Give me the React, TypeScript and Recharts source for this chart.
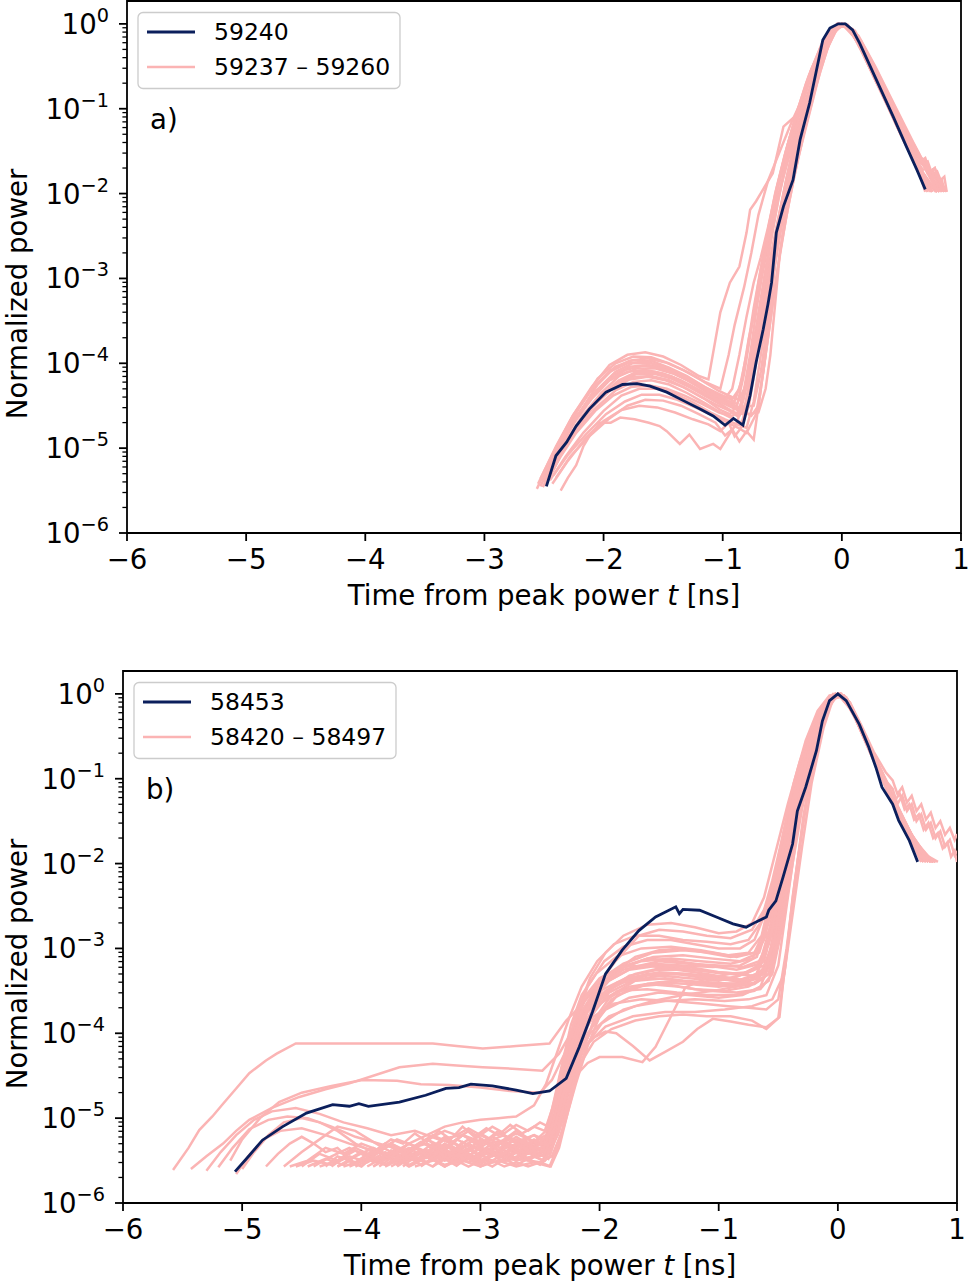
import { LineChart, Line, XAxis, YAxis, ReferenceArea } from "recharts";

// Normalized power traces, stored as [time in ns, log10(power)] pairs.
type Pt = [number, number];

const NAVY = "#0b1f5c";
const PINK = "#fbb4b4";
const FONT = "'DejaVu Sans', sans-serif";

const W = 969;
const PLOT_H = 532;
const Y_TOP = 1.86;

const X_TICKS = [-6, -5, -4, -3, -2, -1, 0, 1];
const DECADES = [-6, -5, -4, -3, -2, -1, 0];
const MANTISSAS = [1, 2, 3, 4, 5, 6, 7, 8, 9];

// ---- panel a) ----
const shotA = "59240";
const rangeA = "59237 – 59260";

const shot59240: Pt[] = [
  [-2.48, -5.45], [-2.4, -5.09], [-2.31, -4.93], [-2.23, -4.74], [-2.12, -4.54], [-1.98, -4.34],
  [-1.84, -4.25], [-1.72, -4.24], [-1.61, -4.27], [-1.47, -4.34], [-1.33, -4.44], [-1.19, -4.54],
  [-1.08, -4.62], [-0.98, -4.73], [-0.91, -4.65], [-0.83, -4.73], [-0.77, -4.38], [-0.72, -3.99],
  [-0.66, -3.6], [-0.62, -3.3], [-0.59, -3.05], [-0.55, -2.46], [-0.49, -2.15], [-0.41, -1.84],
  [-0.35, -1.36], [-0.27, -0.93], [-0.16, -0.19], [-0.1, -0.05], [-0.03, 0], [0.03, 0],
  [0.09, -0.07], [0.15, -0.23], [0.29, -0.66], [0.43, -1.09], [0.54, -1.44], [0.63, -1.72],
  [0.7, -1.95],
];

const shots59237to59260: Pt[][] = [
  [[-2.52, -5.38], [-2.4, -5.0], [-2.25, -4.6], [-2.1, -4.28], [-1.95, -4.02], [-1.8, -3.9], [-1.65, -3.87], [-1.5, -3.92], [-1.35, -4.02], [-1.2, -4.15], [-1.12, -4.19], [-1.02, -3.4], [-0.94, -3.05], [-0.86, -2.86], [-0.8, -2.46], [-0.77, -2.19], [-0.72, -2.09], [-0.58, -1.76], [-0.49, -1.21], [-0.41, -1.11], [-0.34, -1.07], [-0.3, -0.89], [-0.2, -0.48], [-0.1, -0.1], [0, 0], [0.1, -0.12], [0.2, -0.42], [0.35, -0.85], [0.5, -1.3], [0.62, -1.62], [0.74, -1.88], [0.8, -1.98]],
  [[-2.49, -5.32], [-2.38, -4.98], [-2.22, -4.56], [-2.05, -4.18], [-1.9, -4.0], [-1.75, -3.92], [-1.6, -3.93], [-1.45, -4.0], [-1.3, -4.1], [-1.15, -4.22], [-1.02, -4.3], [-0.95, -3.9], [-0.9, -3.55], [-0.82, -3.1], [-0.76, -2.7], [-0.7, -2.25], [-0.62, -1.85], [-0.52, -1.5], [-0.42, -1.15], [-0.32, -0.85], [-0.2, -0.42], [-0.1, -0.1], [0, 0], [0.12, -0.18], [0.25, -0.55], [0.4, -1.0], [0.55, -1.42], [0.68, -1.78], [0.76, -1.98]],
  [[-2.47, -5.3], [-2.35, -4.95], [-2.2, -4.58], [-2.05, -4.25], [-1.9, -4.04], [-1.75, -3.96], [-1.6, -3.97], [-1.45, -4.05], [-1.3, -4.15], [-1.15, -4.28], [-1.0, -4.38], [-0.9, -4.45], [-0.84, -4.2], [-0.78, -3.7], [-0.7, -3.2], [-0.62, -2.6], [-0.55, -2.1], [-0.47, -1.7], [-0.38, -1.25], [-0.3, -0.9], [-0.18, -0.38], [-0.08, -0.07], [0.02, 0], [0.14, -0.14], [0.28, -0.5], [0.44, -0.95], [0.6, -1.4], [0.72, -1.72], [0.8, -1.85], [0.84, -1.98]],
  [[-2.55, -5.42], [-2.42, -5.05], [-2.28, -4.68], [-2.12, -4.35], [-1.95, -4.1], [-1.8, -4.0], [-1.65, -3.98], [-1.5, -4.04], [-1.35, -4.13], [-1.2, -4.25], [-1.05, -4.36], [-0.92, -4.48], [-0.86, -4.55], [-0.8, -4.2], [-0.74, -3.75], [-0.66, -3.2], [-0.58, -2.65], [-0.5, -2.1], [-0.42, -1.62], [-0.33, -1.1], [-0.22, -0.6], [-0.12, -0.2], [0, 0], [0.1, -0.1], [0.22, -0.45], [0.36, -0.88], [0.5, -1.32], [0.64, -1.72], [0.72, -1.98]],
  [[-2.5, -5.4], [-2.38, -5.02], [-2.24, -4.66], [-2.08, -4.36], [-1.92, -4.14], [-1.78, -4.04], [-1.62, -4.02], [-1.48, -4.07], [-1.32, -4.18], [-1.18, -4.3], [-1.04, -4.42], [-0.92, -4.5], [-0.82, -4.55], [-0.76, -4.1], [-0.7, -3.6], [-0.62, -3.0], [-0.55, -2.45], [-0.48, -1.95], [-0.4, -1.5], [-0.32, -1.05], [-0.22, -0.6], [-0.1, -0.15], [0, 0], [0.12, -0.15], [0.26, -0.58], [0.42, -1.06], [0.58, -1.52], [0.72, -1.85], [0.82, -1.98]],
  [[-2.46, -5.28], [-2.33, -4.95], [-2.18, -4.62], [-2.02, -4.35], [-1.87, -4.15], [-1.72, -4.06], [-1.57, -4.06], [-1.42, -4.12], [-1.27, -4.22], [-1.12, -4.34], [-0.98, -4.45], [-0.86, -4.52], [-0.74, -4.5], [-0.68, -4.1], [-0.62, -3.5], [-0.57, -2.9], [-0.52, -2.4], [-0.46, -1.95], [-0.38, -1.45], [-0.3, -1.0], [-0.2, -0.5], [-0.1, -0.12], [0, 0], [0.1, -0.1], [0.24, -0.5], [0.4, -1.0], [0.54, -1.38], [0.62, -1.55], [0.68, -1.62], [0.72, -1.76], [0.76, -1.72], [0.8, -1.86], [0.84, -1.84], [0.86, -1.98]],
  [[-2.53, -5.45], [-2.4, -5.08], [-2.26, -4.72], [-2.1, -4.42], [-1.95, -4.2], [-1.8, -4.1], [-1.65, -4.08], [-1.5, -4.12], [-1.35, -4.2], [-1.2, -4.32], [-1.05, -4.45], [-0.95, -4.55], [-0.88, -4.62], [-0.82, -4.35], [-0.75, -3.85], [-0.68, -3.3], [-0.6, -2.75], [-0.52, -2.2], [-0.44, -1.7], [-0.36, -1.25], [-0.27, -0.8], [-0.15, -0.3], [-0.05, -0.04], [0.05, -0.02], [0.16, -0.3], [0.3, -0.72], [0.45, -1.15], [0.6, -1.58], [0.74, -1.9], [0.79, -1.98]],
  [[-2.44, -5.25], [-2.32, -4.95], [-2.18, -4.64], [-2.03, -4.4], [-1.88, -4.22], [-1.73, -4.13], [-1.58, -4.12], [-1.43, -4.18], [-1.28, -4.28], [-1.13, -4.4], [-1.0, -4.5], [-0.9, -4.58], [-0.82, -4.6], [-0.76, -4.25], [-0.7, -3.8], [-0.63, -3.2], [-0.56, -2.6], [-0.5, -2.1], [-0.43, -1.65], [-0.35, -1.2], [-0.25, -0.7], [-0.14, -0.25], [-0.03, 0], [0.08, -0.06], [0.2, -0.38], [0.34, -0.8], [0.5, -1.28], [0.66, -1.75], [0.75, -1.98]],
  [[-2.51, -5.46], [-2.38, -5.1], [-2.24, -4.78], [-2.08, -4.5], [-1.93, -4.3], [-1.78, -4.19], [-1.63, -4.16], [-1.48, -4.2], [-1.33, -4.28], [-1.18, -4.4], [-1.04, -4.5], [-0.94, -4.56], [-0.86, -4.62], [-0.8, -4.45], [-0.74, -4.0], [-0.67, -3.45], [-0.6, -2.9], [-0.54, -2.35], [-0.47, -1.85], [-0.4, -1.4], [-0.31, -0.95], [-0.2, -0.45], [-0.08, -0.08], [0.03, -0.01], [0.16, -0.2], [0.31, -0.6], [0.47, -1.05], [0.62, -1.48], [0.74, -1.78], [0.8, -1.9], [0.82, -1.98]],
  [[-2.48, -5.4], [-2.36, -5.08], [-2.22, -4.78], [-2.06, -4.52], [-1.9, -4.32], [-1.75, -4.22], [-1.6, -4.2], [-1.45, -4.25], [-1.3, -4.35], [-1.15, -4.47], [-1.02, -4.58], [-0.92, -4.65], [-0.84, -4.7], [-0.78, -4.4], [-0.72, -3.95], [-0.64, -3.3], [-0.57, -2.75], [-0.5, -2.2], [-0.43, -1.72], [-0.35, -1.25], [-0.26, -0.82], [-0.15, -0.35], [-0.04, -0.02], [0.06, -0.04], [0.18, -0.36], [0.32, -0.78], [0.48, -1.26], [0.64, -1.72], [0.7, -1.98]],
  [[-2.45, -5.38], [-2.32, -5.1], [-2.17, -4.82], [-2.0, -4.56], [-1.85, -4.38], [-1.7, -4.3], [-1.55, -4.3], [-1.4, -4.36], [-1.25, -4.46], [-1.1, -4.58], [-0.98, -4.66], [-0.88, -4.72], [-0.8, -4.76], [-0.74, -4.45], [-0.68, -3.9], [-0.61, -3.3], [-0.55, -2.75], [-0.49, -2.25], [-0.42, -1.75], [-0.34, -1.3], [-0.25, -0.85], [-0.14, -0.35], [-0.03, -0.01], [0.07, -0.05], [0.2, -0.42], [0.35, -0.86], [0.5, -1.32], [0.66, -1.76], [0.74, -1.98]],
  [[-2.42, -5.32], [-2.3, -5.08], [-2.15, -4.84], [-1.98, -4.6], [-1.82, -4.45], [-1.68, -4.37], [-1.53, -4.37], [-1.38, -4.43], [-1.23, -4.52], [-1.08, -4.62], [-0.96, -4.7], [-0.87, -4.76], [-0.8, -4.82], [-0.72, -4.6], [-0.66, -4.1], [-0.6, -3.5], [-0.54, -2.9], [-0.47, -2.3], [-0.4, -1.8], [-0.32, -1.3], [-0.22, -0.75], [-0.12, -0.28], [-0.02, 0], [0.11, -0.08], [0.25, -0.44], [0.42, -0.92], [0.58, -1.36], [0.72, -1.72], [0.8, -1.92], [0.82, -1.98]],
  [[-2.4, -5.35], [-2.28, -5.1], [-2.12, -4.86], [-1.96, -4.66], [-1.8, -4.5], [-1.65, -4.43], [-1.5, -4.44], [-1.35, -4.5], [-1.2, -4.6], [-1.06, -4.7], [-0.98, -4.85], [-0.92, -4.78], [-0.86, -4.92], [-0.8, -4.8], [-0.74, -4.9], [-0.7, -4.5], [-0.64, -3.9], [-0.58, -3.3], [-0.52, -2.7], [-0.45, -2.15], [-0.37, -1.6], [-0.28, -1.1], [-0.18, -0.55], [-0.08, -0.12], [0.02, 0], [0.12, -0.16], [0.26, -0.58], [0.42, -1.06], [0.58, -1.52], [0.72, -1.88], [0.8, -1.98]],
  [[-2.36, -5.5], [-2.3, -5.35], [-2.23, -5.2], [-2.17, -4.98], [-2.12, -4.86], [-2.03, -4.7], [-1.94, -4.7], [-1.86, -4.64], [-1.74, -4.66], [-1.62, -4.7], [-1.53, -4.74], [-1.47, -4.8], [-1.36, -4.95], [-1.28, -4.84], [-1.19, -5.01], [-1.08, -4.95], [-1.02, -5.01], [-0.95, -4.85], [-0.88, -4.7], [-0.82, -4.4], [-0.76, -3.95], [-0.7, -3.4], [-0.63, -2.8], [-0.56, -2.25], [-0.48, -1.7], [-0.4, -1.25], [-0.3, -0.78], [-0.18, -0.32], [-0.06, -0.04], [0.04, -0.02], [0.15, -0.26], [0.3, -0.7], [0.46, -1.2], [0.62, -1.66], [0.76, -1.98]],
  [[-2.43, -5.42], [-2.3, -5.15], [-2.15, -4.88], [-2.0, -4.68], [-1.85, -4.55], [-1.7, -4.5], [-1.55, -4.52], [-1.4, -4.58], [-1.25, -4.66], [-1.12, -4.72], [-1.02, -4.8], [-0.95, -4.7], [-0.9, -4.86], [-0.84, -4.75], [-0.78, -4.5], [-0.72, -4.0], [-0.66, -3.4], [-0.6, -2.85], [-0.53, -2.3], [-0.46, -1.8], [-0.38, -1.35], [-0.29, -0.9], [-0.18, -0.42], [-0.07, -0.06], [0.03, -0.01], [0.15, -0.22], [0.3, -0.62], [0.46, -1.06], [0.62, -1.5], [0.75, -1.84], [0.82, -1.98]],
  [[-2.49, -5.44], [-2.37, -5.12], [-2.23, -4.82], [-2.07, -4.56], [-1.92, -4.38], [-1.77, -4.28], [-1.62, -4.26], [-1.47, -4.3], [-1.32, -4.38], [-1.17, -4.48], [-1.03, -4.58], [-0.92, -4.62], [-0.84, -4.55], [-0.76, -4.62], [-0.7, -4.5], [-0.65, -4.0], [-0.6, -3.4], [-0.56, -2.8], [-0.5, -2.3], [-0.44, -1.85], [-0.37, -1.4], [-0.28, -0.92], [-0.17, -0.42], [-0.06, -0.05], [0.04, -0.02], [0.16, -0.28], [0.3, -0.7], [0.46, -1.18], [0.58, -1.48], [0.64, -1.62], [0.7, -1.68], [0.74, -1.8], [0.78, -1.76], [0.82, -1.9], [0.84, -1.98]],
  [[-2.53, -5.36], [-2.4, -4.98], [-2.26, -4.62], [-2.1, -4.3], [-1.94, -4.08], [-1.78, -3.97], [-1.63, -3.94], [-1.48, -3.99], [-1.33, -4.08], [-1.18, -4.2], [-1.04, -4.32], [-0.92, -4.4], [-0.84, -4.44], [-0.78, -4.2], [-0.72, -3.7], [-0.66, -3.15], [-0.6, -2.6], [-0.53, -2.05], [-0.45, -1.55], [-0.36, -1.08], [-0.26, -0.62], [-0.15, -0.22], [-0.04, 0], [0.08, -0.06], [0.2, -0.4], [0.34, -0.82], [0.5, -1.3], [0.66, -1.72], [0.8, -1.98]],
  [[-2.46, -5.34], [-2.34, -5.02], [-2.2, -4.7], [-2.04, -4.42], [-1.89, -4.22], [-1.74, -4.12], [-1.59, -4.1], [-1.44, -4.15], [-1.29, -4.25], [-1.14, -4.36], [-1.0, -4.47], [-0.88, -4.55], [-0.78, -4.6], [-0.7, -4.58], [-0.64, -4.3], [-0.6, -3.9], [-0.56, -3.3], [-0.52, -2.7], [-0.48, -2.3], [-0.42, -1.9], [-0.35, -1.42], [-0.26, -0.9], [-0.16, -0.4], [-0.06, -0.06], [0.04, -0.01], [0.15, -0.22], [0.3, -0.66], [0.46, -1.14], [0.6, -1.5], [0.68, -1.64], [0.72, -1.62], [0.76, -1.78], [0.8, -1.74], [0.84, -1.88], [0.88, -1.98]],
  [[-2.5, -5.35], [-2.37, -5.0], [-2.22, -4.64], [-2.06, -4.32], [-1.9, -4.1], [-1.76, -4.0], [-1.6, -4.0], [-1.45, -4.06], [-1.3, -4.16], [-1.15, -4.28], [-1.02, -4.38], [-0.92, -4.42], [-0.86, -4.3], [-0.8, -3.9], [-0.74, -3.35], [-0.67, -2.8], [-0.6, -2.3], [-0.53, -1.85], [-0.45, -1.4], [-0.36, -0.98], [-0.25, -0.52], [-0.13, -0.16], [-0.02, 0], [0.1, -0.08], [0.24, -0.44], [0.38, -0.86], [0.5, -1.2], [0.58, -1.42], [0.64, -1.55], [0.7, -1.62], [0.74, -1.75], [0.78, -1.7], [0.82, -1.85], [0.86, -1.8], [0.88, -1.98]],
  [[-2.47, -5.38], [-2.35, -5.05], [-2.21, -4.72], [-2.05, -4.45], [-1.9, -4.25], [-1.75, -4.16], [-1.6, -4.15], [-1.45, -4.2], [-1.3, -4.3], [-1.15, -4.42], [-1.02, -4.55], [-0.94, -4.6], [-0.88, -4.5], [-0.82, -4.12], [-0.76, -3.6], [-0.7, -3.05], [-0.63, -2.5], [-0.56, -2.0], [-0.48, -1.55], [-0.4, -1.15], [-0.3, -0.7], [-0.18, -0.28], [-0.06, -0.03], [0.05, -0.01], [0.18, -0.3], [0.32, -0.72], [0.46, -1.1], [0.56, -1.38], [0.62, -1.48], [0.66, -1.62], [0.7, -1.58], [0.74, -1.74], [0.78, -1.7], [0.82, -1.88], [0.84, -1.98]],
  [[-2.56, -5.48], [-2.44, -5.12], [-2.3, -4.76], [-2.14, -4.46], [-1.98, -4.22], [-1.82, -4.08], [-1.67, -4.03], [-1.52, -4.06], [-1.37, -4.14], [-1.22, -4.24], [-1.08, -4.35], [-0.96, -4.44], [-0.88, -4.48], [-0.82, -4.3], [-0.77, -3.9], [-0.72, -3.4], [-0.66, -2.85], [-0.6, -2.35], [-0.53, -1.9], [-0.45, -1.45], [-0.36, -1.0], [-0.26, -0.55], [-0.14, -0.18], [-0.03, 0], [0.09, -0.06], [0.22, -0.4], [0.36, -0.8], [0.5, -1.22], [0.6, -1.45], [0.66, -1.6], [0.72, -1.68], [0.76, -1.82], [0.8, -1.78], [0.84, -1.92], [0.86, -1.98]],
  [[-2.44, -5.3], [-2.32, -4.98], [-2.18, -4.66], [-2.02, -4.4], [-1.87, -4.2], [-1.72, -4.1], [-1.57, -4.1], [-1.42, -4.16], [-1.27, -4.26], [-1.12, -4.38], [-1.0, -4.45], [-0.92, -4.3], [-0.86, -3.9], [-0.8, -3.45], [-0.74, -3.05], [-0.68, -2.75], [-0.62, -2.4], [-0.55, -1.95], [-0.47, -1.5], [-0.38, -1.05], [-0.28, -0.62], [-0.17, -0.24], [-0.06, -0.03], [0.05, -0.02], [0.17, -0.3], [0.31, -0.72], [0.46, -1.18], [0.6, -1.56], [0.68, -1.72], [0.72, -1.7], [0.76, -1.86], [0.8, -1.98]],
];

// ---- panel b) ----
const shotB = "58453";
const rangeB = "58420 – 58497";

const shot58453: Pt[] = [
  [-5.06, -5.63], [-4.94, -5.44], [-4.83, -5.26], [-4.66, -5.1], [-4.46, -4.94], [-4.24, -4.84],
  [-4.1, -4.86], [-4.02, -4.83], [-3.94, -4.86], [-3.68, -4.81], [-3.46, -4.73], [-3.29, -4.65],
  [-3.18, -4.64], [-3.08, -4.6], [-2.9, -4.62], [-2.7, -4.67], [-2.56, -4.71], [-2.42, -4.68],
  [-2.28, -4.53], [-2.17, -4.16], [-2.06, -3.75], [-1.95, -3.3], [-1.81, -3.02], [-1.67, -2.79],
  [-1.53, -2.63], [-1.36, -2.51], [-1.33, -2.59], [-1.3, -2.54], [-1.16, -2.55], [-1.02, -2.63],
  [-0.88, -2.71], [-0.77, -2.75], [-0.69, -2.69], [-0.6, -2.63], [-0.58, -2.55], [-0.52, -2.44],
  [-0.46, -2.16], [-0.38, -1.77], [-0.34, -1.38], [-0.27, -1.1], [-0.18, -0.67], [-0.13, -0.32],
  [-0.07, -0.08], [0, 0], [0.07, -0.08], [0.18, -0.36], [0.26, -0.63], [0.32, -0.87],
  [0.37, -1.1], [0.46, -1.3], [0.51, -1.49], [0.6, -1.73], [0.67, -1.98],
];

const shots58420to58497: Pt[][] = [
  [[-5.58, -5.61], [-5.45, -5.35], [-5.36, -5.14], [-5.25, -4.98], [-5.16, -4.83], [-5.05, -4.65], [-4.94, -4.47], [-4.8, -4.32], [-4.71, -4.24], [-4.55, -4.12], [-4.2, -4.12], [-3.8, -4.12], [-3.4, -4.12], [-3.2, -4.15], [-2.98, -4.18], [-2.7, -4.15], [-2.42, -4.12], [-2.28, -3.85], [-2.14, -3.65], [-2.0, -3.4], [-1.86, -3.14], [-1.67, -2.85], [-1.5, -2.78], [-1.3, -2.8], [-1.1, -2.85], [-0.9, -2.88], [-0.72, -2.78], [-0.6, -2.5], [-0.5, -1.95], [-0.4, -1.35], [-0.3, -0.82], [-0.2, -0.42], [-0.1, -0.12], [0, 0], [0.1, -0.15], [0.2, -0.45], [0.32, -0.85], [0.45, -1.25], [0.58, -1.62], [0.7, -1.98]],
  [[-5.43, -5.6], [-5.3, -5.45], [-5.16, -5.3], [-5.05, -5.15], [-4.94, -5.02], [-4.75, -4.88], [-4.52, -4.75], [-4.3, -4.66], [-4.1, -4.59], [-3.9, -4.5], [-3.68, -4.4], [-3.4, -4.36], [-3.2, -4.38], [-2.98, -4.4], [-2.7, -4.42], [-2.48, -4.44], [-2.34, -4.24], [-2.2, -3.9], [-2.06, -3.55], [-1.9, -3.3], [-1.7, -3.1], [-1.5, -3.02], [-1.3, -3.0], [-1.1, -3.05], [-0.9, -3.1], [-0.7, -3.05], [-0.58, -2.8], [-0.48, -2.2], [-0.38, -1.5], [-0.28, -0.9], [-0.18, -0.42], [-0.08, -0.1], [0.02, 0], [0.12, -0.2], [0.24, -0.58], [0.38, -1.0], [0.52, -1.42], [0.66, -1.8], [0.74, -1.98]],
  [[-5.1, -5.5], [-5.0, -5.25], [-4.85, -5.0], [-4.69, -4.81], [-4.5, -4.7], [-4.25, -4.62], [-3.99, -4.55], [-3.7, -4.56], [-3.5, -4.6], [-3.26, -4.61], [-3.0, -4.64], [-2.75, -4.68], [-2.5, -4.7], [-2.4, -4.55], [-2.28, -4.2], [-2.15, -3.8], [-2.0, -3.45], [-1.85, -3.25], [-1.6, -3.12], [-1.35, -3.15], [-1.1, -3.2], [-0.85, -3.25], [-0.65, -3.18], [-0.55, -2.8], [-0.45, -2.1], [-0.35, -1.4], [-0.25, -0.8], [-0.15, -0.35], [-0.05, -0.05], [0.05, -0.03], [0.15, -0.3], [0.28, -0.72], [0.42, -1.15], [0.56, -1.55], [0.7, -1.9], [0.74, -1.98]],
  [[-5.3, -5.62], [-5.18, -5.4], [-5.05, -5.2], [-4.9, -5.02], [-4.75, -4.92], [-4.55, -4.88], [-4.35, -4.95], [-4.15, -5.05], [-3.95, -5.12], [-3.75, -5.2], [-3.55, -5.15], [-3.35, -5.25], [-3.15, -5.2], [-2.95, -5.3], [-2.75, -5.25], [-2.55, -5.3], [-2.42, -5.28], [-2.32, -4.9], [-2.22, -4.4], [-2.12, -3.95], [-2.0, -3.6], [-1.85, -3.4], [-1.6, -3.3], [-1.35, -3.3], [-1.1, -3.35], [-0.85, -3.38], [-0.62, -3.3], [-0.52, -2.9], [-0.42, -2.1], [-0.32, -1.3], [-0.22, -0.7], [-0.12, -0.28], [-0.02, 0], [0.08, -0.08], [0.2, -0.45], [0.34, -0.9], [0.48, -1.32], [0.62, -1.72], [0.72, -1.98]],
  [[-5.2, -5.58], [-5.08, -5.35], [-4.94, -5.13], [-4.78, -5.02], [-4.62, -4.98], [-4.45, -5.0], [-4.25, -5.1], [-4.05, -5.22], [-3.85, -5.3], [-3.65, -5.38], [-3.45, -5.3], [-3.25, -5.42], [-3.05, -5.35], [-2.85, -5.45], [-2.65, -5.4], [-2.45, -5.45], [-2.35, -5.2], [-2.25, -4.75], [-2.15, -4.25], [-2.05, -3.85], [-1.9, -3.55], [-1.7, -3.38], [-1.45, -3.35], [-1.2, -3.4], [-0.95, -3.42], [-0.75, -3.4], [-0.6, -3.2], [-0.5, -2.6], [-0.4, -1.8], [-0.3, -1.1], [-0.2, -0.55], [-0.1, -0.15], [0, 0], [0.1, -0.12], [0.22, -0.5], [0.36, -0.95], [0.5, -1.38], [0.64, -1.76], [0.76, -1.98]],
  [[-5.05, -5.66], [-4.95, -5.45], [-4.82, -5.25], [-4.68, -5.15], [-4.5, -5.12], [-4.3, -5.2], [-4.1, -5.3], [-3.9, -5.38], [-3.7, -5.45], [-3.5, -5.4], [-3.3, -5.5], [-3.1, -5.45], [-2.9, -5.52], [-2.7, -5.48], [-2.5, -5.52], [-2.4, -5.45], [-2.3, -5.1], [-2.2, -4.6], [-2.1, -4.15], [-2.0, -3.8], [-1.85, -3.55], [-1.6, -3.42], [-1.35, -3.45], [-1.1, -3.5], [-0.85, -3.52], [-0.65, -3.48], [-0.55, -3.3], [-0.46, -2.7], [-0.38, -2.0], [-0.3, -1.35], [-0.2, -0.7], [-0.1, -0.22], [0, 0], [0.1, -0.14], [0.24, -0.58], [0.38, -1.02], [0.52, -1.45], [0.66, -1.82], [0.72, -1.98]],
  [[-4.6, -5.57], [-4.45, -5.5], [-4.3, -5.35], [-4.15, -5.42], [-4.0, -5.3], [-3.85, -5.38], [-3.7, -5.25], [-3.55, -5.33], [-3.4, -5.2], [-3.25, -5.3], [-3.1, -5.15], [-2.95, -5.28], [-2.8, -5.2], [-2.65, -5.32], [-2.5, -5.25], [-2.4, -5.3], [-2.32, -5.0], [-2.24, -4.55], [-2.15, -4.05], [-2.05, -3.7], [-1.9, -3.45], [-1.7, -3.3], [-1.45, -3.22], [-1.2, -3.25], [-0.95, -3.3], [-0.75, -3.28], [-0.62, -3.15], [-0.52, -2.5], [-0.42, -1.7], [-0.32, -1.05], [-0.22, -0.5], [-0.12, -0.15], [-0.02, 0], [0.08, -0.06], [0.2, -0.4], [0.34, -0.85], [0.48, -1.28], [0.62, -1.7], [0.74, -1.98]],
  [[-4.45, -5.57], [-4.3, -5.48], [-4.15, -5.55], [-4.0, -5.4], [-3.85, -5.5], [-3.7, -5.35], [-3.55, -5.45], [-3.4, -5.3], [-3.25, -5.4], [-3.1, -5.25], [-2.95, -5.38], [-2.8, -5.28], [-2.65, -5.42], [-2.5, -5.35], [-2.42, -5.4], [-2.34, -5.15], [-2.26, -4.7], [-2.17, -4.2], [-2.07, -3.8], [-1.92, -3.52], [-1.72, -3.38], [-1.5, -3.32], [-1.25, -3.35], [-1.0, -3.38], [-0.78, -3.3], [-0.62, -3.2], [-0.5, -2.8], [-0.4, -2.0], [-0.3, -1.25], [-0.2, -0.62], [-0.1, -0.18], [0, 0], [0.1, -0.1], [0.22, -0.48], [0.36, -0.92], [0.5, -1.35], [0.64, -1.76], [0.8, -1.98]],
  [[-4.3, -5.57], [-4.2, -5.45], [-4.05, -5.52], [-3.9, -5.38], [-3.75, -5.47], [-3.6, -5.3], [-3.45, -5.42], [-3.3, -5.25], [-3.15, -5.35], [-3.0, -5.18], [-2.85, -5.3], [-2.7, -5.15], [-2.55, -5.28], [-2.45, -5.2], [-2.37, -4.95], [-2.28, -4.5], [-2.19, -4.0], [-2.1, -3.65], [-1.96, -3.38], [-1.78, -3.2], [-1.55, -3.1], [-1.3, -3.08], [-1.05, -3.12], [-0.82, -3.15], [-0.66, -3.05], [-0.56, -2.6], [-0.46, -1.9], [-0.36, -1.2], [-0.26, -0.62], [-0.16, -0.25], [-0.06, -0.03], [0.04, -0.02], [0.15, -0.3], [0.28, -0.72], [0.42, -1.15], [0.56, -1.56], [0.7, -1.9], [0.76, -1.98]],
  [[-4.15, -5.57], [-4.0, -5.5], [-3.85, -5.4], [-3.7, -5.5], [-3.55, -5.35], [-3.4, -5.48], [-3.25, -5.32], [-3.1, -5.45], [-2.95, -5.3], [-2.8, -5.42], [-2.65, -5.3], [-2.5, -5.45], [-2.42, -5.38], [-2.36, -5.1], [-2.28, -4.6], [-2.2, -4.12], [-2.1, -3.75], [-1.95, -3.5], [-1.75, -3.35], [-1.5, -3.28], [-1.25, -3.3], [-1.0, -3.35], [-0.8, -3.4], [-0.66, -3.35], [-0.56, -3.0], [-0.48, -2.3], [-0.4, -1.6], [-0.3, -0.98], [-0.2, -0.5], [-0.1, -0.12], [0, 0], [0.12, -0.2], [0.25, -0.6], [0.4, -1.08], [0.55, -1.5], [0.7, -1.88], [0.76, -1.98]],
  [[-4.0, -5.57], [-3.9, -5.45], [-3.75, -5.3], [-3.6, -5.42], [-3.45, -5.25], [-3.3, -5.38], [-3.15, -5.2], [-3.0, -5.32], [-2.85, -5.15], [-2.7, -5.3], [-2.55, -5.2], [-2.45, -5.3], [-2.38, -5.05], [-2.3, -4.55], [-2.22, -4.05], [-2.12, -3.7], [-1.98, -3.42], [-1.8, -3.25], [-1.55, -3.18], [-1.3, -3.2], [-1.05, -3.22], [-0.82, -3.2], [-0.68, -3.1], [-0.6, -2.75], [-0.5, -2.05], [-0.4, -1.4], [-0.3, -0.85], [-0.2, -0.42], [-0.1, -0.1], [0, 0], [0.1, -0.14], [0.22, -0.52], [0.36, -0.96], [0.5, -1.4], [0.64, -1.78], [0.72, -1.98]],
  [[-3.85, -5.57], [-3.7, -5.42], [-3.55, -5.5], [-3.4, -5.35], [-3.25, -5.47], [-3.1, -5.3], [-2.95, -5.42], [-2.8, -5.27], [-2.65, -5.4], [-2.52, -5.3], [-2.44, -5.35], [-2.36, -5.05], [-2.28, -4.6], [-2.2, -4.15], [-2.1, -3.82], [-1.95, -3.58], [-1.75, -3.45], [-1.5, -3.4], [-1.25, -3.42], [-1.0, -3.45], [-0.8, -3.42], [-0.64, -3.3], [-0.54, -2.95], [-0.46, -2.2], [-0.38, -1.5], [-0.28, -0.9], [-0.18, -0.4], [-0.08, -0.08], [0.02, 0], [0.12, -0.18], [0.24, -0.55], [0.38, -0.98], [0.52, -1.4], [0.66, -1.8], [0.78, -1.98]],
  [[-3.7, -5.57], [-3.6, -5.48], [-3.45, -5.38], [-3.3, -5.5], [-3.15, -5.33], [-3.0, -5.45], [-2.85, -5.28], [-2.7, -5.4], [-2.58, -5.3], [-2.46, -5.42], [-2.38, -5.25], [-2.3, -4.8], [-2.22, -4.3], [-2.14, -3.92], [-2.02, -3.62], [-1.85, -3.42], [-1.6, -3.32], [-1.35, -3.3], [-1.1, -3.32], [-0.88, -3.35], [-0.7, -3.25], [-0.58, -2.95], [-0.48, -2.3], [-0.38, -1.55], [-0.28, -0.92], [-0.18, -0.42], [-0.08, -0.08], [0.02, 0], [0.14, -0.24], [0.28, -0.68], [0.42, -1.12], [0.56, -1.52], [0.7, -1.88], [0.78, -1.98]],
  [[-3.6, -5.57], [-3.45, -5.45], [-3.3, -5.32], [-3.15, -5.45], [-3.0, -5.25], [-2.85, -5.38], [-2.7, -5.22], [-2.55, -5.35], [-2.45, -5.22], [-2.38, -4.95], [-2.3, -4.45], [-2.22, -3.95], [-2.12, -3.6], [-1.98, -3.35], [-1.8, -3.18], [-1.55, -3.05], [-1.3, -3.02], [-1.05, -3.05], [-0.85, -3.1], [-0.7, -3.05], [-0.62, -2.8], [-0.54, -2.3], [-0.45, -1.65], [-0.35, -1.0], [-0.25, -0.5], [-0.14, -0.18], [-0.04, 0], [0.06, -0.04], [0.18, -0.36], [0.32, -0.8], [0.46, -1.22], [0.6, -1.62], [0.72, -1.98]],
  [[-4.4, -5.57], [-4.25, -5.45], [-4.1, -5.35], [-3.95, -5.45], [-3.8, -5.3], [-3.65, -5.42], [-3.5, -5.28], [-3.35, -5.4], [-3.2, -5.25], [-3.05, -5.35], [-2.9, -5.22], [-2.75, -5.33], [-2.6, -5.25], [-2.47, -5.33], [-2.38, -5.1], [-2.3, -4.7], [-2.2, -4.3], [-2.08, -4.0], [-1.92, -3.8], [-1.7, -3.68], [-1.45, -3.62], [-1.2, -3.6], [-0.95, -3.62], [-0.75, -3.6], [-0.6, -3.55], [-0.5, -3.2], [-0.42, -2.4], [-0.34, -1.6], [-0.26, -0.95], [-0.16, -0.42], [-0.06, -0.06], [0.04, -0.02], [0.16, -0.3], [0.3, -0.74], [0.44, -1.16], [0.58, -1.58], [0.72, -1.92], [0.82, -1.98]],
  [[-4.55, -5.57], [-4.4, -5.5], [-4.25, -5.55], [-4.1, -5.45], [-3.95, -5.52], [-3.8, -5.4], [-3.65, -5.5], [-3.5, -5.42], [-3.35, -5.52], [-3.2, -5.4], [-3.05, -5.5], [-2.9, -5.38], [-2.75, -5.48], [-2.6, -5.4], [-2.48, -5.5], [-2.4, -5.3], [-2.32, -4.9], [-2.24, -4.5], [-2.12, -4.15], [-1.95, -3.92], [-1.72, -3.8], [-1.45, -3.75], [-1.2, -3.75], [-0.95, -3.72], [-0.72, -3.68], [-0.55, -3.6], [-0.45, -3.3], [-0.38, -2.6], [-0.3, -1.8], [-0.22, -1.05], [-0.12, -0.4], [-0.04, -0.06], [0.05, -0.02], [0.16, -0.28], [0.3, -0.72], [0.46, -1.2], [0.62, -1.66], [0.76, -1.95], [0.82, -1.98]],
  [[-3.95, -5.57], [-3.8, -5.45], [-3.65, -5.52], [-3.5, -5.38], [-3.35, -5.48], [-3.2, -5.35], [-3.05, -5.45], [-2.9, -5.3], [-2.75, -5.42], [-2.6, -5.35], [-2.46, -5.4], [-2.38, -5.15], [-2.3, -4.8], [-2.2, -4.5], [-2.1, -4.35], [-2.0, -4.28], [-1.81, -4.28], [-1.64, -4.34], [-1.53, -4.16], [-1.39, -3.77], [-1.28, -3.46], [-1.1, -3.35], [-0.9, -3.3], [-0.72, -3.32], [-0.6, -3.25], [-0.5, -2.75], [-0.42, -2.05], [-0.32, -1.3], [-0.22, -0.68], [-0.12, -0.25], [-0.02, 0], [0.08, -0.08], [0.2, -0.42], [0.34, -0.86], [0.48, -1.3], [0.62, -1.7], [0.74, -1.98]],
  [[-3.3, -5.57], [-3.15, -5.45], [-3.0, -5.5], [-2.85, -5.38], [-2.7, -5.47], [-2.55, -5.35], [-2.44, -5.42], [-2.36, -5.1], [-2.28, -4.65], [-2.18, -4.25], [-2.05, -4.05], [-1.95, -3.98], [-1.86, -4.0], [-1.72, -4.15], [-1.58, -4.32], [-1.45, -4.22], [-1.3, -4.1], [-1.18, -3.95], [-1.05, -3.83], [-0.9, -3.86], [-0.75, -3.9], [-0.6, -3.93], [-0.49, -3.81], [-0.46, -3.41], [-0.4, -2.7], [-0.33, -1.9], [-0.25, -1.15], [-0.16, -0.55], [-0.07, -0.12], [0.02, 0], [0.12, -0.18], [0.25, -0.6], [0.4, -1.06], [0.55, -1.5], [0.7, -1.9], [0.78, -1.98]],
  [[-3.5, -5.57], [-3.35, -5.42], [-3.2, -5.52], [-3.05, -5.4], [-2.9, -5.5], [-2.75, -5.38], [-2.6, -5.47], [-2.47, -5.38], [-2.38, -5.2], [-2.3, -4.85], [-2.2, -4.45], [-2.05, -4.1], [-1.9, -3.95], [-1.7, -3.85], [-1.5, -3.8], [-1.3, -3.78], [-1.1, -3.8], [-0.9, -3.8], [-0.72, -3.85], [-0.6, -3.95], [-0.5, -3.82], [-0.44, -3.2], [-0.38, -2.4], [-0.3, -1.6], [-0.22, -0.9], [-0.13, -0.35], [-0.04, -0.03], [0.06, -0.04], [0.18, -0.36], [0.32, -0.8], [0.48, -1.28], [0.64, -1.74], [0.78, -1.98]],
  [[-4.2, -5.57], [-4.05, -5.45], [-3.9, -5.35], [-3.75, -5.45], [-3.6, -5.3], [-3.45, -5.4], [-3.3, -5.22], [-3.15, -5.35], [-3.0, -5.2], [-2.85, -5.3], [-2.7, -5.18], [-2.55, -5.28], [-2.45, -5.15], [-2.38, -4.8], [-2.3, -4.3], [-2.2, -3.8], [-2.08, -3.35], [-1.95, -3.05], [-1.8, -2.85], [-1.6, -2.72], [-1.4, -2.7], [-1.2, -2.75], [-1.0, -2.82], [-0.85, -2.8], [-0.72, -2.7], [-0.62, -2.4], [-0.52, -1.85], [-0.42, -1.3], [-0.32, -0.8], [-0.22, -0.4], [-0.12, -0.12], [-0.02, 0], [0.08, -0.08], [0.2, -0.42], [0.33, -0.85], [0.47, -1.28], [0.6, -1.65], [0.7, -1.98]],
  [[-3.75, -5.57], [-3.6, -5.45], [-3.45, -5.52], [-3.3, -5.4], [-3.15, -5.5], [-3.0, -5.35], [-2.85, -5.45], [-2.7, -5.32], [-2.55, -5.4], [-2.44, -5.3], [-2.36, -4.9], [-2.28, -4.35], [-2.2, -3.85], [-2.1, -3.45], [-1.96, -3.15], [-1.8, -2.98], [-1.6, -2.9], [-1.4, -2.9], [-1.2, -2.95], [-1.0, -3.0], [-0.82, -3.0], [-0.7, -2.9], [-0.6, -2.55], [-0.5, -1.95], [-0.4, -1.35], [-0.3, -0.85], [-0.2, -0.42], [-0.1, -0.12], [0, 0], [0.12, -0.2], [0.26, -0.64], [0.4, -1.08], [0.54, -1.5], [0.68, -1.86], [0.74, -1.98]],
  [[-4.5, -5.57], [-4.35, -5.42], [-4.2, -5.5], [-4.05, -5.35], [-3.9, -5.45], [-3.75, -5.3], [-3.6, -5.4], [-3.45, -5.25], [-3.3, -5.35], [-3.15, -5.2], [-3.0, -5.3], [-2.85, -5.18], [-2.7, -5.28], [-2.55, -5.2], [-2.45, -5.26], [-2.37, -5.0], [-2.29, -4.5], [-2.2, -4.0], [-2.1, -3.65], [-1.95, -3.4], [-1.75, -3.25], [-1.5, -3.2], [-1.25, -3.22], [-1.0, -3.28], [-0.8, -3.3], [-0.66, -3.2], [-0.56, -2.7], [-0.47, -2.0], [-0.38, -1.35], [-0.28, -0.78], [-0.18, -0.35], [-0.08, -0.06], [0.02, 0], [0.1, -0.1], [0.2, -0.38], [0.3, -0.68], [0.4, -0.92], [0.46, -1.02], [0.5, -1.18], [0.54, -1.1], [0.58, -1.28], [0.62, -1.2], [0.66, -1.38], [0.7, -1.3], [0.74, -1.48], [0.78, -1.4], [0.82, -1.58], [0.86, -1.5], [0.9, -1.66], [0.94, -1.58], [0.98, -1.72], [1.0, -1.65]],
  [[-3.9, -5.57], [-3.75, -5.45], [-3.6, -5.35], [-3.45, -5.47], [-3.3, -5.3], [-3.15, -5.42], [-3.0, -5.26], [-2.85, -5.38], [-2.7, -5.25], [-2.56, -5.36], [-2.46, -5.28], [-2.38, -4.98], [-2.3, -4.5], [-2.21, -4.02], [-2.11, -3.7], [-1.97, -3.48], [-1.78, -3.35], [-1.55, -3.3], [-1.3, -3.3], [-1.05, -3.35], [-0.84, -3.38], [-0.68, -3.3], [-0.58, -2.9], [-0.49, -2.2], [-0.4, -1.5], [-0.3, -0.9], [-0.2, -0.42], [-0.1, -0.1], [0, 0], [0.1, -0.12], [0.2, -0.42], [0.3, -0.74], [0.4, -1.02], [0.46, -1.12], [0.5, -1.3], [0.54, -1.2], [0.58, -1.38], [0.62, -1.3], [0.66, -1.5], [0.7, -1.42], [0.74, -1.6], [0.78, -1.52], [0.82, -1.7], [0.86, -1.62], [0.9, -1.8], [0.94, -1.72], [0.98, -1.9], [1.0, -1.85]],
  [[-4.1, -5.57], [-3.95, -5.48], [-3.8, -5.55], [-3.65, -5.42], [-3.5, -5.5], [-3.35, -5.38], [-3.2, -5.48], [-3.05, -5.35], [-2.9, -5.45], [-2.75, -5.32], [-2.6, -5.42], [-2.48, -5.35], [-2.4, -5.1], [-2.32, -4.62], [-2.24, -4.15], [-2.14, -3.8], [-2.0, -3.55], [-1.8, -3.4], [-1.55, -3.35], [-1.3, -3.38], [-1.05, -3.4], [-0.85, -3.42], [-0.7, -3.35], [-0.6, -3.05], [-0.5, -2.35], [-0.41, -1.6], [-0.32, -1.0], [-0.22, -0.48], [-0.12, -0.14], [-0.02, 0], [0.1, -0.1], [0.2, -0.4], [0.3, -0.72], [0.4, -1.0], [0.48, -1.25], [0.52, -1.18], [0.56, -1.36], [0.6, -1.3], [0.64, -1.48], [0.68, -1.42], [0.72, -1.6], [0.76, -1.52], [0.8, -1.7], [0.84, -1.64], [0.88, -1.82], [0.92, -1.75], [0.95, -1.92], [0.98, -1.85], [1.0, -1.98]],
  [[-4.65, -5.57], [-4.5, -5.4], [-4.35, -5.25], [-4.2, -5.1], [-4.05, -5.15], [-3.9, -5.28], [-3.75, -5.4], [-3.6, -5.5], [-3.45, -5.45], [-3.3, -5.55], [-3.15, -5.5], [-3.0, -5.57], [-2.85, -5.5], [-2.7, -5.57], [-2.55, -5.52], [-2.42, -5.57], [-2.34, -5.3], [-2.26, -4.8], [-2.17, -4.3], [-2.06, -3.9], [-1.9, -3.6], [-1.7, -3.45], [-1.45, -3.42], [-1.2, -3.48], [-0.95, -3.5], [-0.75, -3.45], [-0.62, -3.35], [-0.52, -3.0], [-0.44, -2.3], [-0.36, -1.6], [-0.27, -1.0], [-0.17, -0.48], [-0.07, -0.1], [0.03, 0], [0.14, -0.24], [0.28, -0.68], [0.44, -1.16], [0.6, -1.62], [0.75, -1.96], [0.8, -1.98]],
  [[-3.55, -5.57], [-3.4, -5.5], [-3.25, -5.4], [-3.1, -5.52], [-2.95, -5.35], [-2.8, -5.48], [-2.65, -5.32], [-2.52, -5.45], [-2.43, -5.3], [-2.35, -4.95], [-2.27, -4.45], [-2.18, -3.98], [-2.07, -3.62], [-1.92, -3.38], [-1.72, -3.22], [-1.5, -3.15], [-1.25, -3.18], [-1.0, -3.2], [-0.8, -3.22], [-0.66, -3.15], [-0.56, -2.85], [-0.47, -2.2], [-0.38, -1.5], [-0.28, -0.9], [-0.18, -0.4], [-0.08, -0.08], [0.02, 0], [0.12, -0.16], [0.24, -0.52], [0.38, -0.95], [0.52, -1.38], [0.66, -1.78], [0.74, -1.98]],
  [[-4.35, -5.57], [-4.2, -5.5], [-4.05, -5.38], [-3.9, -5.5], [-3.75, -5.4], [-3.6, -5.55], [-3.45, -5.45], [-3.3, -5.57], [-3.15, -5.42], [-3.0, -5.52], [-2.85, -5.4], [-2.7, -5.5], [-2.56, -5.38], [-2.45, -5.46], [-2.38, -5.2], [-2.31, -4.78], [-2.23, -4.32], [-2.14, -3.95], [-2.02, -3.68], [-1.85, -3.5], [-1.6, -3.48], [-1.35, -3.52], [-1.1, -3.55], [-0.88, -3.55], [-0.7, -3.5], [-0.58, -3.38], [-0.5, -2.95], [-0.42, -2.25], [-0.34, -1.55], [-0.25, -0.92], [-0.15, -0.4], [-0.05, -0.05], [0.05, -0.02], [0.16, -0.3], [0.3, -0.74], [0.45, -1.2], [0.6, -1.62], [0.74, -1.95], [0.8, -1.98]],
  [[-3.9, -5.57], [-3.75, -5.42], [-3.6, -5.3], [-3.45, -5.2], [-3.3, -5.1], [-3.15, -5.05], [-3.0, -5.02], [-2.85, -5.0], [-2.7, -4.98], [-2.55, -4.85], [-2.45, -4.6], [-2.35, -4.2], [-2.25, -3.8], [-2.15, -3.45], [-2.02, -3.15], [-1.88, -2.95], [-1.7, -2.85], [-1.5, -2.85], [-1.3, -2.9], [-1.1, -2.92], [-0.9, -2.95], [-0.75, -2.9], [-0.65, -2.7], [-0.55, -2.2], [-0.45, -1.6], [-0.36, -1.05], [-0.26, -0.58], [-0.16, -0.22], [-0.06, -0.02], [0.04, -0.02], [0.14, -0.26], [0.27, -0.66], [0.4, -1.05], [0.53, -1.42], [0.66, -1.8], [0.72, -1.98]],
  [[-5.0, -5.6], [-4.9, -5.4], [-4.78, -5.2], [-4.65, -5.05], [-4.5, -5.0], [-4.35, -5.05], [-4.2, -5.15], [-4.05, -5.3], [-3.9, -5.4], [-3.75, -5.32], [-3.6, -5.45], [-3.45, -5.38], [-3.3, -5.48], [-3.15, -5.4], [-3.0, -5.5], [-2.85, -5.42], [-2.7, -5.5], [-2.56, -5.45], [-2.46, -5.5], [-2.38, -5.25], [-2.3, -4.85], [-2.2, -4.38], [-2.1, -4.0], [-1.95, -3.72], [-1.75, -3.58], [-1.5, -3.52], [-1.25, -3.55], [-1.0, -3.58], [-0.8, -3.55], [-0.65, -3.45], [-0.55, -3.1], [-0.46, -2.4], [-0.37, -1.65], [-0.28, -1.0], [-0.18, -0.45], [-0.08, -0.1], [0.02, 0], [0.13, -0.22], [0.27, -0.66], [0.42, -1.12], [0.57, -1.56], [0.72, -1.92], [0.76, -1.98]],
  [[-4.25, -5.57], [-4.15, -5.47], [-4.05, -5.55], [-3.95, -5.42], [-3.85, -5.52], [-3.75, -5.38], [-3.65, -5.48], [-3.55, -5.33], [-3.45, -5.45], [-3.35, -5.3], [-3.25, -5.42], [-3.15, -5.28], [-3.05, -5.4], [-2.95, -5.25], [-2.85, -5.38], [-2.75, -5.22], [-2.65, -5.35], [-2.55, -5.25], [-2.46, -5.32], [-2.39, -5.05], [-2.31, -4.6], [-2.23, -4.1], [-2.14, -3.72], [-2.02, -3.45], [-1.85, -3.25], [-1.65, -3.15], [-1.4, -3.12], [-1.15, -3.15], [-0.9, -3.18], [-0.72, -3.12], [-0.62, -2.9], [-0.53, -2.35], [-0.44, -1.7], [-0.35, -1.1], [-0.25, -0.6], [-0.15, -0.25], [-0.05, -0.03], [0.05, -0.02], [0.16, -0.32], [0.3, -0.76], [0.44, -1.18], [0.58, -1.58], [0.7, -1.92], [0.76, -1.98]],
  [[-3.4, -5.57], [-3.3, -5.48], [-3.2, -5.56], [-3.1, -5.45], [-3.0, -5.55], [-2.9, -5.42], [-2.8, -5.52], [-2.7, -5.4], [-2.6, -5.5], [-2.5, -5.42], [-2.43, -5.48], [-2.36, -5.2], [-2.29, -4.75], [-2.21, -4.25], [-2.12, -3.9], [-2.0, -3.65], [-1.82, -3.5], [-1.6, -3.42], [-1.35, -3.38], [-1.1, -3.42], [-0.88, -3.45], [-0.7, -3.42], [-0.58, -3.3], [-0.5, -2.8], [-0.42, -2.05], [-0.34, -1.4], [-0.25, -0.85], [-0.15, -0.38], [-0.05, -0.05], [0.05, -0.02], [0.17, -0.34], [0.31, -0.78], [0.46, -1.24], [0.62, -1.68], [0.78, -1.98]],
  [[-4.05, -5.57], [-3.95, -5.5], [-3.85, -5.35], [-3.75, -5.25], [-3.65, -5.3], [-3.55, -5.18], [-3.45, -5.28], [-3.35, -5.15], [-3.25, -5.25], [-3.15, -5.1], [-3.05, -5.22], [-2.95, -5.12], [-2.85, -5.2], [-2.75, -5.08], [-2.65, -5.18], [-2.55, -5.1], [-2.46, -5.15], [-2.4, -4.9], [-2.32, -4.4], [-2.24, -3.9], [-2.15, -3.55], [-2.03, -3.3], [-1.86, -3.1], [-1.65, -3.0], [-1.4, -2.98], [-1.15, -3.02], [-0.92, -3.08], [-0.75, -3.05], [-0.64, -2.85], [-0.55, -2.3], [-0.46, -1.65], [-0.37, -1.05], [-0.27, -0.55], [-0.17, -0.2], [-0.07, -0.02], [0.03, -0.01], [0.14, -0.26], [0.27, -0.66], [0.41, -1.1], [0.55, -1.5], [0.68, -1.86], [0.74, -1.98]],
  [[-3.65, -5.57], [-3.55, -5.45], [-3.45, -5.52], [-3.35, -5.4], [-3.25, -5.5], [-3.15, -5.38], [-3.05, -5.5], [-2.95, -5.36], [-2.85, -5.48], [-2.75, -5.35], [-2.65, -5.45], [-2.55, -5.38], [-2.47, -5.45], [-2.4, -5.22], [-2.33, -4.85], [-2.25, -4.4], [-2.16, -4.05], [-2.05, -3.8], [-1.88, -3.65], [-1.65, -3.6], [-1.4, -3.62], [-1.15, -3.65], [-0.92, -3.68], [-0.75, -3.7], [-0.6, -3.72], [-0.5, -3.6], [-0.43, -3.0], [-0.36, -2.2], [-0.29, -1.45], [-0.21, -0.8], [-0.12, -0.3], [-0.03, -0.02], [0.07, -0.04], [0.19, -0.38], [0.33, -0.84], [0.48, -1.3], [0.64, -1.72], [0.8, -1.98]],
  [[-4.8, -5.57], [-4.7, -5.42], [-4.6, -5.3], [-4.5, -5.22], [-4.4, -5.3], [-4.3, -5.4], [-4.2, -5.35], [-4.1, -5.48], [-4.0, -5.4], [-3.9, -5.52], [-3.8, -5.44], [-3.7, -5.55], [-3.6, -5.46], [-3.5, -5.55], [-3.4, -5.48], [-3.3, -5.57], [-3.2, -5.5], [-3.1, -5.57], [-3.0, -5.5], [-2.9, -5.57], [-2.8, -5.48], [-2.7, -5.55], [-2.6, -5.48], [-2.5, -5.55], [-2.42, -5.45], [-2.35, -5.15], [-2.27, -4.65], [-2.18, -4.15], [-2.08, -3.78], [-1.94, -3.5], [-1.75, -3.32], [-1.5, -3.25], [-1.25, -3.25], [-1.0, -3.28], [-0.8, -3.3], [-0.66, -3.22], [-0.57, -2.9], [-0.48, -2.25], [-0.39, -1.55], [-0.3, -0.95], [-0.2, -0.45], [-0.1, -0.1], [0, 0], [0.12, -0.18], [0.26, -0.6], [0.4, -1.05], [0.55, -1.48], [0.7, -1.86], [0.78, -1.98]],
  [[-3.8, -5.57], [-3.7, -5.5], [-3.6, -5.4], [-3.5, -5.3], [-3.4, -5.22], [-3.3, -5.15], [-3.2, -5.2], [-3.1, -5.12], [-3.0, -5.2], [-2.9, -5.1], [-2.8, -5.18], [-2.7, -5.08], [-2.6, -5.15], [-2.5, -5.05], [-2.43, -5.1], [-2.37, -4.82], [-2.3, -4.35], [-2.22, -3.9], [-2.13, -3.58], [-2.0, -3.35], [-1.82, -3.22], [-1.6, -3.2], [-1.35, -3.25], [-1.1, -3.3], [-0.9, -3.35], [-0.74, -3.38], [-0.62, -3.3], [-0.53, -2.9], [-0.45, -2.15], [-0.36, -1.45], [-0.27, -0.85], [-0.17, -0.38], [-0.07, -0.06], [0.03, -0.01], [0.15, -0.28], [0.29, -0.72], [0.44, -1.18], [0.6, -1.64], [0.76, -1.98]],
  [[-4.2, -5.57], [-4.1, -5.5], [-4.0, -5.57], [-3.9, -5.45], [-3.8, -5.55], [-3.7, -5.48], [-3.6, -5.57], [-3.5, -5.5], [-3.4, -5.57], [-3.3, -5.45], [-3.2, -5.55], [-3.1, -5.48], [-3.0, -5.57], [-2.9, -5.5], [-2.8, -5.57], [-2.7, -5.52], [-2.6, -5.57], [-2.5, -5.52], [-2.41, -5.57], [-2.34, -5.35], [-2.27, -4.95], [-2.19, -4.5], [-2.1, -4.12], [-1.98, -3.88], [-1.8, -3.72], [-1.55, -3.62], [-1.3, -3.55], [-1.05, -3.5], [-0.85, -3.45], [-0.7, -3.4], [-0.58, -3.3], [-0.49, -2.85], [-0.41, -2.1], [-0.33, -1.4], [-0.24, -0.8], [-0.14, -0.32], [-0.04, -0.03], [0.06, -0.03], [0.18, -0.34], [0.32, -0.8], [0.47, -1.26], [0.62, -1.66], [0.74, -1.9], [0.84, -1.98]],
];

// log-axis ticks: labelled decades plus unlabelled 2..9 minors
const Y_TICKS = DECADES.flatMap((d) =>
  d === 0 ? [1] : MANTISSAS.map((m) => m * 10 ** d)
);

const toRows = (pts: Pt[]) => pts.map(([t, e]) => ({ t, p: 10 ** e }));

const minusSign = (n: number) => (n < 0 ? "\u2212" + Math.abs(n) : String(n));

function TimeTick(props: any) {
  const { x, y, payload } = props;
  return (
    <g>
      <line x1={x} x2={x} y1={y} y2={y + 8} stroke="#000" strokeWidth={1.8} />
      <text x={x} y={y + 36} textAnchor="middle" fontSize={27.6} fontFamily={FONT} fill="#000">
        {minusSign(payload.value)}
      </text>
    </g>
  );
}

function PowerTick(props: any) {
  const { x, y, payload } = props;
  const v = payload.value as number;
  const e = Math.floor(Math.log10(v) + 1e-9);
  const major = Math.abs(v / 10 ** e - 1) < 1e-6;
  return (
    <g>
      <line x1={x - (major ? 8 : 4.6)} x2={x} y1={y} y2={y} stroke="#000" strokeWidth={major ? 1.8 : 1.3} />
      {major && (
        <text x={x - 18} y={y + 10} textAnchor="end" fontSize={27.6} fontFamily={FONT} fill="#000">
          10
          <tspan dy={-12} fontSize={19.3}>
            {minusSign(e)}
          </tspan>
        </text>
      )}
    </g>
  );
}

interface PanelProps {
  top: number;
  left: number;
  right: number;
  height: number;
  navy: Pt[];
  pink: Pt[][];
  navyName: string;
  pinkName: string;
  tag: string;
}

function Panel({ top, left, right, height, navy, pink, navyName, pinkName, tag }: PanelProps) {
  const xAxisH = height - 1 - PLOT_H;
  const cx = left + (W - left - right) / 2;
  const lx = left + 11;
  return (
    <div style={{ position: "absolute", left: 0, top, width: W, height }}>
      <LineChart width={W} height={height} margin={{ top: 1, right, bottom: 0, left: 0 }}>
        <XAxis
          dataKey="t"
          type="number"
          domain={[-6, 1]}
          ticks={X_TICKS}
          allowDataOverflow
          axisLine={false}
          tickLine={false}
          tickSize={0}
          tickMargin={0}
          interval={0}
          height={xAxisH}
          tick={(p: any) => <TimeTick {...p} />}
        />
        <YAxis
          type="number"
          scale="log"
          domain={[1e-6, Y_TOP]}
          ticks={Y_TICKS}
          allowDataOverflow
          axisLine={false}
          tickLine={false}
          tickSize={0}
          tickMargin={0}
          interval={0}
          width={left}
          tick={(p: any) => <PowerTick {...p} />}
        />
        {pink.map((c, i) => (
          <Line
            key={i}
            data={toRows(c)}
            dataKey="p"
            type="linear"
            stroke={PINK}
            strokeWidth={2.5}
            dot={false}
            isAnimationActive={false}
          />
        ))}
        <Line
          data={toRows(navy)}
          dataKey="p"
          type="linear"
          stroke={NAVY}
          strokeWidth={2.8}
          dot={false}
          isAnimationActive={false}
        />
        <ReferenceArea x1={-6} x2={1} y1={1e-6} y2={Y_TOP} fill="none" stroke="#000" strokeWidth={1.8} ifOverflow="visible" />
      </LineChart>
      <svg width={W} height={height} style={{ position: "absolute", left: 0, top: 0, pointerEvents: "none" }}>
        <rect x={lx} y={12.5} width={262} height={76} rx={5} fill="#fff" fillOpacity={0.8} stroke="#cccccc" strokeWidth={1.3} />
        <line x1={lx + 9} x2={lx + 57} y1={32} y2={32} stroke={NAVY} strokeWidth={2.8} />
        <line x1={lx + 9} x2={lx + 57} y1={67} y2={67} stroke={PINK} strokeWidth={2.5} />
        <text x={lx + 76} y={40} fontSize={23.5} fontFamily={FONT} fill="#000">{navyName}</text>
        <text x={lx + 76} y={75} fontSize={23.5} fontFamily={FONT} fill="#000">{pinkName}</text>
        <text x={left + 23} y={129} fontSize={27.6} fontFamily={FONT} fill="#000">{tag}</text>
        <text x={cx} y={605} textAnchor="middle" fontSize={27.6} fontFamily={FONT} fill="#000">
          Time from peak power <tspan fontStyle="italic">t</tspan> [ns]
        </text>
        <text
          x={27}
          y={294}
          transform="rotate(-90 27 294)"
          textAnchor="middle"
          fontSize={27.6}
          fontFamily={FONT}
          fill="#000"
        >
          Normalized power
        </text>
      </svg>
    </div>
  );
}

export default function App() {
  return (
    <div style={{ position: "absolute", left: 0, top: 0, width: W, height: 1285, background: "#fff" }}>
      <Panel
        top={0}
        left={127}
        right={8}
        height={640}
        navy={shot59240}
        pink={shots59237to59260}
        navyName={shotA}
        pinkName={rangeA}
        tag="a)"
      />
      <Panel
        top={670}
        left={123}
        right={12}
        height={615}
        navy={shot58453}
        pink={shots58420to58497}
        navyName={shotB}
        pinkName={rangeB}
        tag="b)"
      />
    </div>
  );
}
